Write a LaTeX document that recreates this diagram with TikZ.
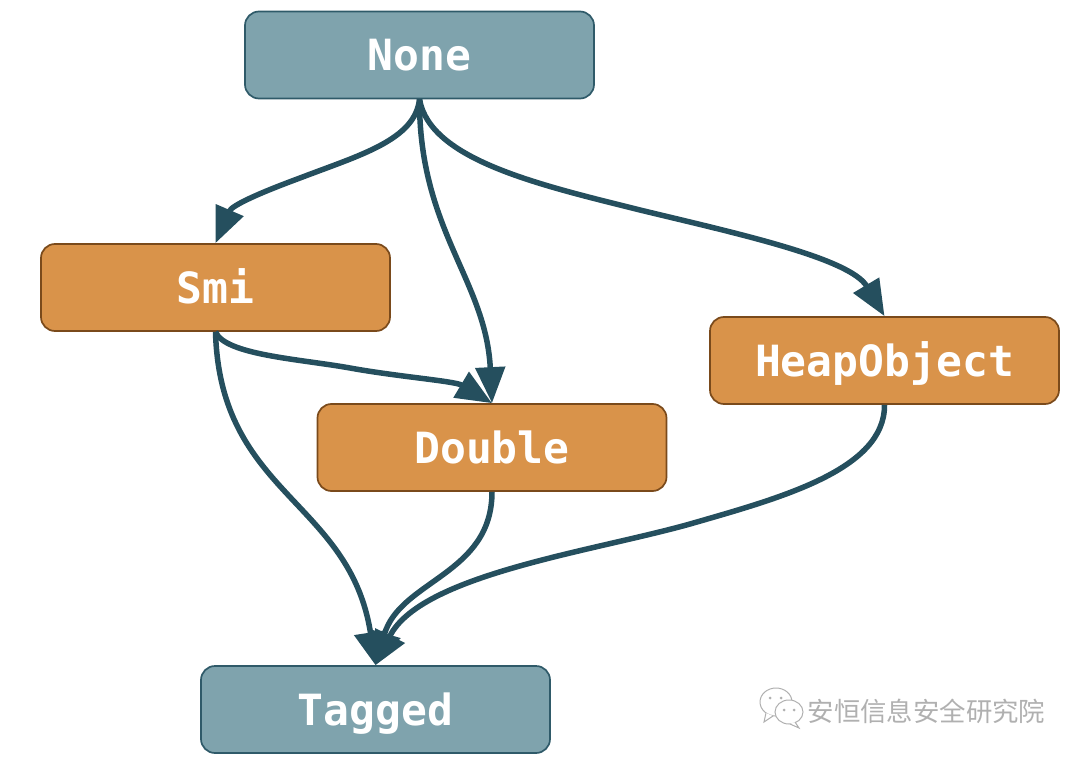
\documentclass[tikz,border=0pt]{standalone}
\usepackage{fontspec}
\setmonofont{DejaVu Sans Mono}
\newfontfamily\cjkfont{Noto Sans CJK SC}
\usetikzlibrary{arrows.meta}
\definecolor{tealfill}{HTML}{7FA3AD}
\definecolor{tealline}{HTML}{2F5A69}
\definecolor{orangefill}{HTML}{D9934A}
\definecolor{orangeline}{HTML}{7A4A1B}
\definecolor{edgecol}{HTML}{254F5E}
\definecolor{markgray}{HTML}{B0B0B0}
\tikzset{
  box/.style={rounded corners=14pt,minimum width=349pt,minimum height=87pt,inner sep=0pt,line width=1.7pt,
    text=white,text height=31pt,text depth=0pt,font=\ttfamily\bfseries\fontsize{43}{43}\selectfont},
  tealbox/.style={box,draw=tealline,fill=tealfill},
  orangebox/.style={box,draw=orangeline,fill=orangefill},
  edge/.style={draw=edgecol,line width=5.5pt,-{Triangle[length=36pt,width=29pt]}},
  tagedge/.style={draw=edgecol,line width=5.5pt,-{Triangle[length=33pt,width=32pt]}},
  markline/.style={draw=markgray,line width=1pt,fill=white},
}
\begin{document}
\begin{tikzpicture}[x=1pt,y=-1pt]
\useasboundingbox (0,0) rectangle (1080,760);
\node[tealbox] (none) at (419.5,55) {None};
\node[orangebox] (smi) at (215.5,287.5) {Smi};
\node[orangebox] (double) at (492,447.5) {Double};
\node[orangebox] (heap) at (884.5,360.5) {HeapObject};
\node[tealbox] (tagged) at (375.5,709.5) {Tagged};
\coordinate (hm) at (640,210);
\coordinate (sd) at (350,368);
\coordinate (ht) at (690,524);
\coordinate (ns) at (300,178);
\draw[edge] (none.south) .. controls (415,140) and (360,155) .. (ns) .. controls (262,192) and (232,205) .. (smi.north);
\draw[edge] (none.south) .. controls (419,230) and (486,280) .. (double.north);
\draw[edge] (none.south) .. controls (430,160) and (540,185) .. (hm) .. controls (735,233) and (850,258) .. (heap.north);
\draw[edge] (smi.south) .. controls (225,355) and (300,359) .. (sd) .. controls (400,377) and (455,381) .. (double.north);
\draw[tagedge] (smi.south) .. controls (220,495) and (350,500) .. (tagged.north);
\draw[tagedge] (double.south) .. controls (492,575) and (400,580) .. (tagged.north);
\draw[tagedge] (heap.south) .. controls (885,470) and (780,498) .. (ht) .. controls (590,552) and (420,575) .. (tagged.north);
% watermark
\node[text=markgray,font=\cjkfont\fontsize{26.4}{26.4}\selectfont,inner sep=0pt] (mark) at (926.5,711.5) {安恒信息安全研究院};
\draw[markline] (776,702) ellipse (16pt and 14pt);
\draw[markline] (766,713) -- (764,722) -- (773,716);
\draw[markline] (789,712) ellipse (14pt and 12pt);
\draw[markline] (795,722) -- (799,728) -- (790,724);
\fill[markgray] (770,698) circle (1.5pt) (781,698) circle (1.5pt) (784,710) circle (1.5pt) (794,710) circle (1.5pt);
\end{tikzpicture}
\end{document}
